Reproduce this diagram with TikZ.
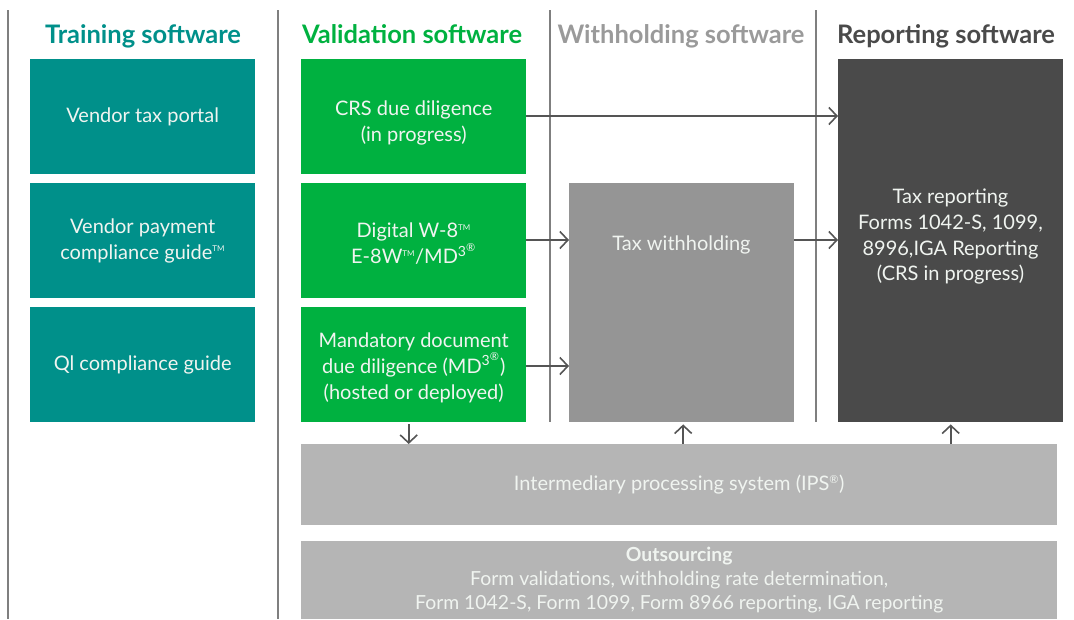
\documentclass[tikz,border=0pt]{standalone}
\usepackage{fontspec}
\setmainfont{Lato}
\usetikzlibrary{arrows.meta, positioning}
\definecolor{trainteal}{HTML}{00908A}
\definecolor{validgreen}{HTML}{00B140}
\definecolor{withgray}{HTML}{959595}
\definecolor{withhead}{HTML}{9A9A9A}
\definecolor{repgray}{HTML}{4A4A4A}
\definecolor{ipsgray}{HTML}{B5B5B5}
\definecolor{sepgray}{HTML}{7F7F7F}
\definecolor{arrgray}{HTML}{555555}
\definecolor{boxtext}{HTML}{F0F4F0}
\newcommand{\tmark}{\textsuperscript{\fontsize{8}{8}\selectfont TM}}
\newcommand{\rmark}{\textsuperscript{\fontsize{11}{11}\selectfont ®}}

\begin{document}
\begin{tikzpicture}[x=1pt, y=-1pt,
	heading/.style={anchor=base, font=\fontsize{25.5}{28}\selectfont\bfseries},
	box/.style={anchor=north west, inner sep=0pt, minimum width=225pt, minimum height=115pt,
		text=boxtext, align=center, font=\fontsize{20}{26}\selectfont},
	sep/.style={draw=sepgray, line width=1.6pt},
	arr/.style={draw=arrgray, line width=1.6pt, -{Straight Barb[length=8pt, width=17pt, line width=1.6pt]}}]
	\useasboundingbox (0,0) rectangle (1074,619);
	
	% 分隔线
	\draw[sep] (8,10) -- (8,619);
	\draw[sep] (278,10) -- (278,619);
	\draw[sep, line width=1.3pt] (550,10) -- (550,422);
	\draw[sep, line width=1.3pt] (816,10) -- (816,422);
	
	% 标题
	\node[heading, text=trainteal] (htrain) at (143,43) {Training software};
	\node[heading, text=validgreen] (hvalid) at (412,43) {Validation software};
	\node[heading, text=withhead] (hwith) at (681,43) {Withholding software};
	\node[heading, text=repgray] (hrep) at (946,43) {Reporting software};
	
	% 培训软件
	\node[box, fill=trainteal] (portal) at (30,59) {Vendor tax portal};
	\node[box, fill=trainteal] (vpguide) at (30,183) {Vendor payment\\compliance guide\tmark};
	\node[box, fill=trainteal] (qiguide) at (30,307) {Ql compliance guide};
	
	% 验证软件
	\node[box, fill=validgreen] (crs) at (301,59) {\rule{0pt}{28pt}CRS due diligence\\(in progress)};
	\node[box, fill=validgreen] (digital) at (301,183) {\rule{0pt}{21pt}Digital W-8\tmark\\E-8W\tmark/MD\textsuperscript{3\rmark}};
	\node[box, fill=validgreen] (mand) at (301,307) {\rule{0pt}{21pt}Mandatory document\\due diligence (MD\textsuperscript{3\rmark})\\(hosted or deployed)};
	
	% 预扣与报告
	\node[box, fill=withgray, minimum height=239pt] (withh) at (569,183) {};
	\node[anchor=base, text=boxtext, font=\fontsize{20}{26}\selectfont] (withtext) at (681.5,250) {Tax withholding};
	\node[box, fill=repgray, minimum height=363pt] (rep) at (838,59) {};
	\node[anchor=north, text=boxtext, align=center, font=\fontsize{20}{25.7}\selectfont, inner sep=0pt] (reptext) at (950.5,189) {Tax reporting\\Forms 1042-S, 1099,\\8996,IGA Reporting\\(CRS in progress)};
	
	% 底部系统
	\node[box, fill=ipsgray, minimum width=756pt, minimum height=81pt] (ips) at (301,444) {Intermediary processing system (IPS\rmark)};
	\node[box, fill=ipsgray, minimum width=756pt, minimum height=78pt, font=\fontsize{19.4}{24}\selectfont] (outs) at (301,541) {\textbf{Outsourcing}\\Form validations, withholding rate determination,\\Form 1042-S, Form 1099, Form 8966 reporting, IGA reporting};
	
	% 箭头
	\draw[arr] (crs.east |- 0,116) -- (rep.west |- 0,116);
	\draw[arr] (digital.east |- 0,240) -- (withh.west |- 0,240);
	\draw[arr] (mand.east |- 0,366) -- (withh.west |- 0,366);
	\draw[arr] (withh.east |- 0,240) -- (rep.west |- 0,240);
	\draw[arr, shorten <=2pt] ([xshift=-5pt]mand.south) -- ([xshift=-5pt]mand.south |- ips.north);
	\draw[arr, shorten >=2pt] ([xshift=1.5pt]withh.south |- ips.north) -- ([xshift=1.5pt]withh.south);
	\draw[arr, shorten >=2pt] (rep.south |- ips.north) -- (rep.south);
\end{tikzpicture}
\end{document}
